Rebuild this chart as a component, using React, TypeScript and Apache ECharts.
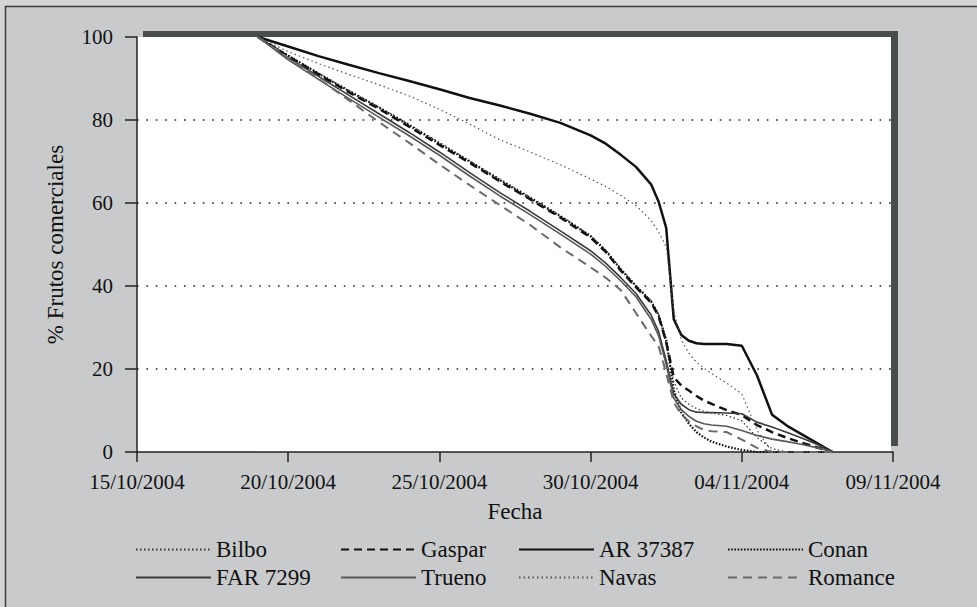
import React, { useEffect, useRef } from "react";
import * as echarts from "echarts";

// Days elapsed since 15/10/2004 for each sample
const START_DATE = Date.UTC(2004, 9, 15);
const dayOffsets = [4, 5, 6, 7, 8, 9, 10, 11, 12, 13, 14, 15, 15.5, 16, 16.5, 17, 17.25, 17.5, 17.75, 18, 18.25, 18.5, 18.75, 19, 19.5, 20, 20.5, 21, 21.5, 22, 22.5, 23];

const seriesNames = ["Bilbo", "Gaspar", "AR 37387", "Conan", "FAR 7299", "Trueno", "Navas", "Romance"];

const bilbo = [100, 95.6, 91.3, 87.2, 83.2, 79, 74.6, 70.2, 65.8, 61.5, 57, 52.2, 48.7, 44.2, 40.2, 36.5, 33.2, 26, 17, 13, 11.5, 10.5, 9.8, 9.4, 8.8, 7.5, 3.5, 0.8, 0, 0, 0, 0];
const gaspar = [100, 95.3, 91, 86.7, 82.7, 78.4, 74, 69.7, 65.2, 60.9, 56.5, 51.7, 48.2, 43.7, 39.7, 36, 32.7, 26.5, 18, 16, 14.8, 13.5, 12.4, 11.6, 10.1, 8.9, 6.5, 4.8, 3.4, 2.2, 1.1, 0];
const ar37387 = [100, 97.7, 95.4, 93.3, 91.3, 89.4, 87.4, 85.3, 83.5, 81.5, 79.3, 76.3, 74.3, 71.6, 68.7, 64.5, 60.3, 54, 32, 28.2, 26.8, 26.2, 26, 26, 26, 25.6, 18.5, 9, 6.3, 4.2, 2.1, 0];
const conan = [100, 95.5, 91.2, 87, 83, 78.7, 74.3, 70, 65.5, 61.2, 56.8, 52, 48.5, 44, 40, 36.3, 33, 27, 15, 9.5, 6.8, 4.8, 3.5, 2.5, 1.3, 0.5, 0, 0, 0, 0, 0, 0];
const far7299 = [100, 95, 90.5, 86, 81.5, 77, 72.3, 67.3, 62.5, 58, 53.3, 48.5, 45.5, 42, 38.2, 33, 29, 22, 14, 11.5, 10.2, 9.6, 9.5, 9.5, 9.4, 9.2, 7.2, 6, 4.7, 3.3, 1.8, 0];
const trueno = [100, 94.5, 89.8, 85.2, 80.7, 76.2, 71.5, 66.5, 61.7, 57.2, 52.5, 47.7, 44.7, 41.2, 37.4, 32, 28, 21, 13, 10.2, 8.6, 7.4, 6.8, 6.5, 6.2, 5.2, 4, 3.1, 2.5, 1.8, 1, 0];
const navas = [100, 96.5, 93.6, 91, 88.5, 85.8, 82.6, 79, 75.2, 72.3, 69.2, 65.8, 64, 61.8, 59.4, 55.8, 53, 49.5, 34, 27, 23.8, 21.6, 20.2, 18.9, 16.6, 14, 5.3, 0, 0, 0, 0, 0];
const romance = [100, 95, 90, 84.8, 79.5, 74.5, 69.3, 64.3, 59.5, 54.7, 49.3, 44.5, 42, 39, 33.5, 28, 25.5, 19, 12, 9, 7.4, 6.2, 5.3, 5, 4.8, 3, 1, 0, 0, 0, 0, 0];

const seriesValues = [bilbo, gaspar, ar37387, conan, far7299, trueno, navas, romance];

const lineStyles: any[] = [
  { color: "#333", width: 1.2, type: [1.5, 2.5] },
  { color: "#111", width: 2.5, type: [8, 5] },
  { color: "#111", width: 2.5, type: "solid" },
  { color: "#111", width: 2.2, type: [1.6, 1.6] },
  { color: "#3a3a3a", width: 1.6, type: "solid" },
  { color: "#585858", width: 1.6, type: "solid" },
  { color: "#555", width: 1.2, type: [1.5, 3] },
  { color: "#6a6a6a", width: 2, type: [9, 6] },
];

const FONT = "Liberation Serif";

function fmtDate(v: number) {
  const d = new Date(START_DATE + Math.round(v * 86400000));
  const dd = String(d.getUTCDate()).padStart(2, "0");
  const mm = String(d.getUTCMonth() + 1).padStart(2, "0");
  return `${dd}/${mm}/${d.getUTCFullYear()}`;
}

export default function App() {
  const ref = useRef<HTMLDivElement>(null);
  useEffect(() => {
    if (!ref.current) return;
    const chart = echarts.init(ref.current, null, { renderer: "svg" });
    const legendBase = {
      orient: "vertical",
      top: 538,
      padding: 0,
      itemWidth: 75,
      itemHeight: 14,
      itemGap: 5,
      selectedMode: false,
      itemStyle: { opacity: 0 },
      textStyle: { fontFamily: FONT, fontSize: 23, color: "#111", lineHeight: 23 },
    };
    chart.setOption({
      animation: false,
      textStyle: { fontFamily: FONT },
      graphic: [
        { type: "rect", silent: true, z: -3, shape: { x: 5.5, y: 6.5, width: 1000, height: 1000 }, style: { fill: "#c8cacc", stroke: "#3c3c3c", lineWidth: 1.5 } },
        { type: "rect", silent: true, z: -2, shape: { x: 143, y: 31, width: 755, height: 415 }, style: { fill: "#4a4e4a" } },
        { type: "rect", silent: true, z: -1, shape: { x: 137, y: 37, width: 754, height: 415 }, style: { fill: "#ffffff" } },
      ],
      grid: { left: 137, right: 84, top: 37, bottom: 155, containLabel: false },
      legend: [
        { ...legendBase, left: 135, data: ["Bilbo", "FAR 7299"] },
        { ...legendBase, left: 340, data: ["Gaspar", "Trueno"] },
        { ...legendBase, left: 518, data: ["AR 37387", "Navas"] },
        { ...legendBase, left: 727, data: ["Conan", "Romance"] },
      ],
      xAxis: {
        type: "value",
        min: 0,
        max: 25,
        interval: 5,
        name: "Fecha",
        nameLocation: "middle",
        nameGap: 48,
        nameTextStyle: { fontFamily: FONT, fontSize: 23, color: "#111" },
        axisLine: { show: true, lineStyle: { color: "#222", width: 1.5 } },
        axisTick: { show: true, length: 10, lineStyle: { color: "#222", width: 1.5 } },
        axisLabel: { formatter: fmtDate, fontFamily: FONT, fontSize: 21, color: "#111", margin: 19 },
        splitLine: { show: false },
      },
      yAxis: {
        type: "value",
        min: 0,
        max: 100,
        interval: 20,
        name: "% Frutos comerciales",
        nameLocation: "middle",
        nameGap: 70,
        nameTextStyle: { fontFamily: FONT, fontSize: 23, color: "#111" },
        axisLine: { show: true, lineStyle: { color: "#222", width: 1.5 } },
        axisTick: { show: true, length: 12, lineStyle: { color: "#222", width: 1.5 } },
        axisLabel: { fontFamily: FONT, fontSize: 21, color: "#111", margin: 24 },
        splitLine: { show: true, showMinLine: false, showMaxLine: false, lineStyle: { color: "#222", width: 1.6, type: [1.6, 7.8] } },
      },
      series: seriesNames.map((name, i) => ({
        name,
        type: "line",
        symbol: "none",
        smooth: false,
        lineStyle: lineStyles[i],
        itemStyle: { color: lineStyles[i].color },
        data: dayOffsets.map((d, j) => [d, seriesValues[i][j]]),
      })),
    });
    return () => chart.dispose();
  }, []);
  return (
    <div style={{ position: "fixed", left: 0, top: 0, width: 977, height: 607, background: "#d3d4d6" }}>
      <div ref={ref} style={{ width: 977, height: 607 }} />
    </div>
  );
}
